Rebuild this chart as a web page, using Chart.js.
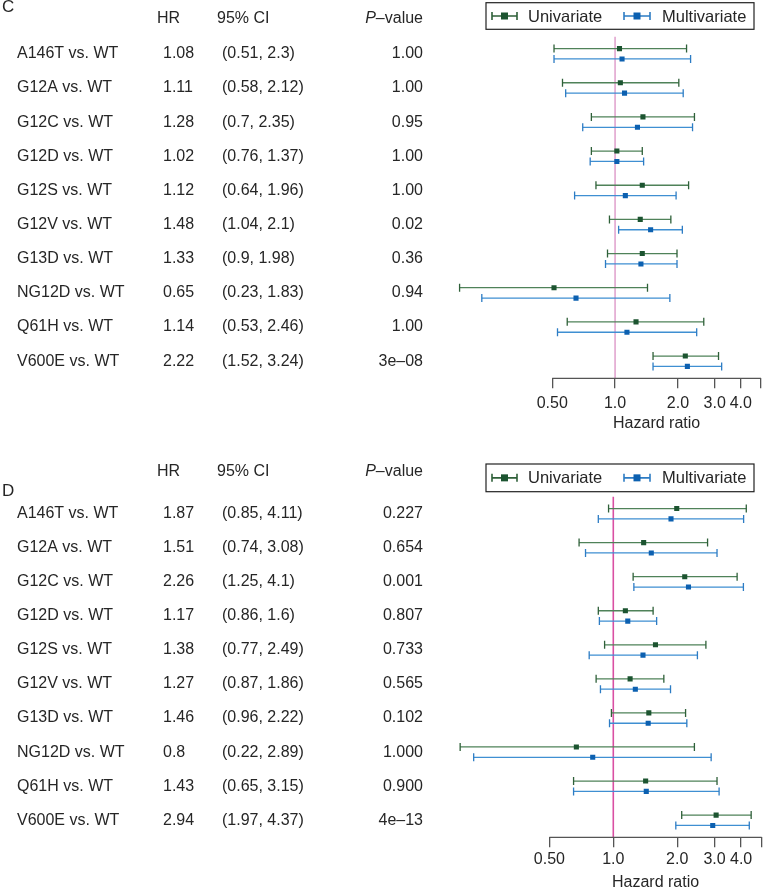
<!DOCTYPE html>
<html>
<head>
<meta charset="utf-8">
<script src="https://cdn.jsdelivr.net/npm/chart.js@4.4.1/dist/chart.umd.min.js"></script>
<style>
  html, body { margin: 0; padding: 0; background: #fff; }
  #wrap { position: relative; width: 767px; height: 891px; }
  .panel { position: absolute; left: 0; width: 767px; }
  #panelC { top: 0; height: 440px; }
  #panelD { top: 440px; height: 451px; }
</style>
</head>
<body>
<div id="wrap">
  <div class="panel" id="panelC"><canvas id="chartC"></canvas></div>
  <div class="panel" id="panelD"><canvas id="chartD"></canvas></div>
</div>
<script>
const rowLabels = ["A146T vs. WT", "G12A vs. WT", "G12C vs. WT", "G12D vs. WT", "G12S vs. WT",
  "G12V vs. WT", "G13D vs. WT", "NG12D vs. WT", "Q61H vs. WT", "V600E vs. WT"];

// Panel C
const cUniHR = [1.05, 1.06, 1.36, 1.02, 1.35, 1.32, 1.35, 0.51, 1.26, 2.17];
const cUniLo = [0.51, 0.56, 0.77, 0.77, 0.81, 0.94, 0.92, 0.18, 0.59, 1.52];
const cUniHi = [2.20, 2.02, 2.40, 1.35, 2.25, 1.85, 1.98, 1.43, 2.66, 3.13];
const cMultiHR = [1.08, 1.11, 1.28, 1.02, 1.12, 1.48, 1.33, 0.65, 1.14, 2.22];
const cMultiLo = [0.51, 0.58, 0.7, 0.76, 0.64, 1.04, 0.9, 0.23, 0.53, 1.52];
const cMultiHi = [2.3, 2.12, 2.35, 1.37, 1.96, 2.1, 1.98, 1.83, 2.46, 3.24];
const cPValues = ["1.00", "1.00", "0.95", "1.00", "1.00", "0.02", "0.36", "0.94", "1.00", "3e\u201308"];

// Panel D
const dUniHR = [1.99, 1.39, 2.17, 1.14, 1.58, 1.20, 1.47, 0.67, 1.42, 3.05];
const dUniLo = [0.95, 0.69, 1.24, 0.85, 0.91, 0.83, 0.98, 0.19, 0.65, 2.10];
const dUniHi = [4.23, 2.78, 3.83, 1.54, 2.73, 1.73, 2.19, 2.41, 3.08, 4.46];
const dMultiHR = [1.87, 1.51, 2.26, 1.17, 1.38, 1.27, 1.46, 0.8, 1.43, 2.94];
const dMultiLo = [0.85, 0.74, 1.25, 0.86, 0.77, 0.87, 0.96, 0.22, 0.65, 1.97];
const dMultiHi = [4.11, 3.08, 4.1, 1.6, 2.49, 1.86, 2.22, 2.89, 3.15, 4.37];
const dPValues = ["0.227", "0.654", "0.001", "0.807", "0.733", "0.565", "0.102", "1.000", "0.900", "4e\u201313"];

const tickValues = [0.5, 1, 2, 3, 4, 5];
const tickLabels = ["0.50", "1.0", "2.0", "3.0", "4.0", ""];
const seriesNames = ["Univariate", "Multivariate"];

const FONT = '"Liberation Sans", Arial, Helvetica, sans-serif';
const TEXT = '#262626';
const uniColors = { line: '#4f8259', cap: '#2f6039', mark: '#1c5430' };
const multiColors = { line: '#3f8fd2', cap: '#2d7cc4', mark: '#0c60b0' };

function errorBarSets(hr, lo, hi, offset, colors) {
  const whisk = [];
  hr.forEach((v, i) => {
    whisk.push({ x: lo[i], y: i + offset }, { x: hi[i], y: i + offset }, { x: NaN, y: NaN });
  });
  return [
    {
      data: whisk, showLine: true, spanGaps: false, borderColor: colors.line, borderWidth: 1.3,
      pointStyle: 'line', pointRotation: 90, pointRadius: 4, pointBorderColor: colors.cap,
      pointBorderWidth: 1.3, order: 2
    },
    {
      data: hr.map((v, i) => ({ x: v, y: i + offset })), pointStyle: 'rect', pointRadius: 3.6,
      pointBackgroundColor: colors.mark, pointBorderWidth: 0, borderWidth: 0, order: 1
    }
  ];
}

function legendIcon(ctx, x0, x1, y, colors) {
  ctx.save();
  ctx.strokeStyle = colors.cap;
  ctx.lineWidth = 1.6;
  ctx.beginPath();
  ctx.moveTo(x0, y); ctx.lineTo(x1, y);
  ctx.moveTo(x0, y - 4); ctx.lineTo(x0, y + 4);
  ctx.moveTo(x1, y - 4); ctx.lineTo(x1, y + 4);
  ctx.stroke();
  ctx.fillStyle = colors.mark;
  const cx = (x0 + x1) / 2;
  ctx.fillRect(cx - 3.5, y - 3.5, 7, 7);
  ctx.restore();
}

function makeDecor(opt) {
  return {
    id: 'decor' + opt.letter,
    beforeDatasetsDraw(chart) {
      const { ctx, chartArea, scales: { x } } = chart;
      const px = x.getPixelForValue(1);
      ctx.save();
      ctx.strokeStyle = opt.refColor;
      ctx.lineWidth = 1.6;
      ctx.beginPath();
      ctx.moveTo(px, chartArea.top);
      ctx.lineTo(px, chartArea.bottom);
      ctx.stroke();
      ctx.restore();
    },
    afterDraw(chart) {
      const { ctx, chartArea, scales: { x, y } } = chart;
      ctx.save();
      // axis line from first to last tick
      const xa = x.getPixelForValue(tickValues[0]);
      const xb = x.getPixelForValue(tickValues[tickValues.length - 1]);
      ctx.strokeStyle = '#555';
      ctx.lineWidth = 1.3;
      ctx.beginPath();
      ctx.moveTo(xa, chartArea.bottom);
      ctx.lineTo(xb, chartArea.bottom);
      ctx.stroke();

      ctx.fillStyle = TEXT;
      ctx.font = '16px ' + FONT;
      ctx.textBaseline = 'middle';
      ctx.textAlign = 'center';
      ctx.fillText('Hazard ratio', (xa + xb) / 2, chartArea.bottom + 45);

      // panel letter
      ctx.textAlign = 'left';
      ctx.font = '17px ' + FONT;
      ctx.fillText(opt.letter, 2, opt.letterY);

      // header
      ctx.font = '16px ' + FONT;
      ctx.fillText('HR', 157, opt.headerY);
      ctx.fillText('95% CI', 217, opt.headerY);
      ctx.textAlign = 'right';
      const rest = '\u2013value';
      const w = ctx.measureText(rest).width;
      ctx.fillText(rest, 423, opt.headerY);
      ctx.font = 'italic 16px ' + FONT;
      ctx.fillText('P', 423 - w, opt.headerY);

      // rows
      ctx.font = '16px ' + FONT;
      rowLabels.forEach((lab, i) => {
        const py = y.getPixelForValue(i);
        ctx.textAlign = 'left';
        ctx.fillText(lab, 17, py);
        ctx.fillText(String(opt.hr[i]), 163, py);
        ctx.fillText('(' + opt.lo[i] + ', ' + opt.hi[i] + ')', 222, py);
        ctx.textAlign = 'right';
        ctx.fillText(opt.p[i], 423, py);
      });

      // legend box
      const lb = opt.legendBox;
      ctx.strokeStyle = '#222';
      ctx.lineWidth = 1.2;
      ctx.strokeRect(lb.x, lb.y, lb.w, lb.h);
      const ly = lb.y + lb.h / 2;
      legendIcon(ctx, lb.x + 6, lb.x + 31, ly, uniColors);
      legendIcon(ctx, lb.x + 138, lb.x + 164, ly, multiColors);
      ctx.fillStyle = TEXT;
      ctx.textAlign = 'left';
      ctx.font = '16.5px ' + FONT;
      ctx.fillText(seriesNames[0], lb.x + 42, ly + 1);
      ctx.fillText(seriesNames[1], lb.x + 176, ly + 1);
      ctx.restore();
    }
  };
}

function buildChart(canvasId, d) {
  const datasets = [
    ...errorBarSets(d.uniHR, d.uniLo, d.uniHi, -0.152, uniColors),
    ...errorBarSets(d.multiHR, d.multiLo, d.multiHi, 0.152, multiColors)
  ];
  return new Chart(document.getElementById(canvasId), {
    type: 'scatter',
    data: { datasets },
    options: {
      responsive: true,
      maintainAspectRatio: false,
      animation: false,
      events: [],
      layout: { padding: d.padding },
      plugins: { legend: { display: false }, tooltip: { enabled: false } },
      scales: {
        x: {
          type: 'logarithmic',
          min: 0.17,
          max: 5,
          border: { display: false },
          grid: { drawOnChartArea: false, drawTicks: true, tickLength: 10, color: '#555', lineWidth: 1.3 },
          afterBuildTicks: (scale) => { scale.ticks = tickValues.map(v => ({ value: v })); },
          afterFit: (scale) => { scale.height = d.axisHeight; },
          ticks: {
            autoSkip: false,
            maxRotation: 0,
            padding: d.tickPad,
            color: TEXT,
            font: { family: FONT, size: 16 },
            callback: (v, i) => tickLabels[i]
          }
        },
        y: {
          type: 'linear',
          display: false,
          reverse: true,
          min: -0.5,
          max: 9.5
        }
      }
    },
    plugins: [makeDecor(d.decor)]
  });
}

buildChart('chartC', {
  uniHR: cUniHR, uniLo: cUniLo, uniHi: cUniHi,
  multiHR: cMultiHR, multiLo: cMultiLo, multiHi: cMultiHi,
  padding: { top: 36.7, left: 454.4, right: 0.4, bottom: 0 },
  axisHeight: 61.7, tickPad: 6,
  decor: {
    letter: 'C', letterY: 7, headerY: 18.5, refColor: '#e2a6cf',
    hr: cMultiHR, lo: cMultiLo, hi: cMultiHi, p: cPValues,
    legendBox: { x: 486, y: 2.7, w: 268, h: 26.6 }
  }
});

buildChart('chartD', {
  uniHR: dUniHR, uniLo: dUniLo, uniHi: dUniHi,
  multiHR: dMultiHR, multiLo: dMultiLo, multiHi: dMultiHi,
  padding: { top: 56.7, left: 449.9, right: 1.5, bottom: 0 },
  axisHeight: 53.7, tickPad: 3,
  decor: {
    letter: 'D', letterY: 51.7, headerY: 31.7, refColor: '#d94fa3',
    hr: dMultiHR, lo: dMultiLo, hi: dMultiHi, p: dPValues,
    legendBox: { x: 486, y: 24, w: 268, h: 27.7 }
  }
});
</script>
</body>
</html>
